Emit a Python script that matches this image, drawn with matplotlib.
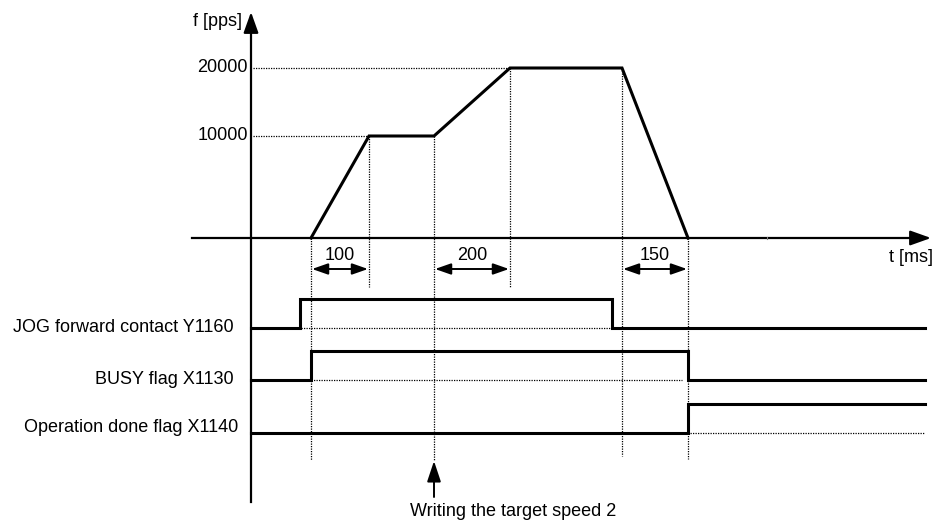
import matplotlib.pyplot as plt
import numpy as np

plt.rcParams['font.family'] = ['Liberation Sans', 'DejaVu Sans']

# speed profile (schematic time position, frequency in pps)
profile_t = [311, 369, 434, 510, 622, 688]
profile_f = [0, 10000, 10000, 20000, 20000, 0]
f_ticks = [10000, 20000]
f_tick_labels = ["10000", "20000"]
# the drawing is not to scale: f level -> height above time axis
f_levels = [0, 10000, 20000]
f_heights = [0, 102, 170]

# time spans marked under the axis
spans = [(311, 369, "100"), (434, 510, "200"), (622, 688, "150")]

# signals: name, rising/falling edges, start level
signal_names = ["JOG forward contact Y1160", "BUSY flag X1130", "Operation done flag X1140"]
signal_edges = [[300, 612], [311, 688], [688]]
signal_start_level = [0, 0, 0]
signal_low_y = [328, 380, 433]
signal_label_y = [327, 380, 428]
signal_label_x = [234, 234, 238]
signal_high = 29
sig_x0, sig_x1 = 251, 925

write_t = 434

axis_x = 251
axis_y = 238

fig = plt.figure(figsize=(9.35, 5.21), dpi=100)
ax = fig.add_axes([0, 0, 1, 1])
ax.set_xlim(0, 935)
ax.set_ylim(521, 0)
ax.axis('off')

def f_to_y(f):
    return axis_y - np.interp(f, f_levels, f_heights)

dot = dict(color='black', lw=0.9, ls=(0, (1, 1)))
big_head = dict(arrowstyle='-|>,head_length=0.7,head_width=0.25', color='black', lw=1.6,
                mutation_scale=18, shrinkA=0, shrinkB=0)
fs = 13

# axes
ax.plot([axis_x, axis_x], [502, 25], color='black', lw=1.6)
ax.annotate('', xy=(axis_x, 12), xytext=(axis_x, 32), arrowprops=big_head)
ax.plot([192, 912], [axis_y, axis_y], color='black', lw=1.6)
ax.annotate('', xy=(931, axis_y), xytext=(910, axis_y), arrowprops=big_head)
ax.plot([767, 767], [axis_y - 1, axis_y + 1], color='gray', lw=0.8)
ax.text(242, 22, "f [pps]", ha='right', va='center', fontsize=fs)
ax.text(933, 257, "t [ms]", ha='right', va='center', fontsize=fs)

# frequency levels
for f, lab in zip(f_ticks, f_tick_labels):
    y = f_to_y(f)
    ax.text(248, y, lab, ha='right', va='center', fontsize=fs)
    idx = profile_f.index(f)
    ax.plot([axis_x + 2, profile_t[idx]], [y, y], **dot)

# profile
ax.plot(profile_t, [f_to_y(f) for f in profile_f], color='black', lw=2.2,
        solid_joinstyle='miter')

# vertical guide lines
guides = [(311, 238, 460), (369, 136, 287), (434, 136, 460),
          (510, 68, 287), (622, 68, 456), (688, 238, 459)]
for x, ya, yb in guides:
    ax.plot([x, x], [ya, yb], **dot)

# span arrows
for xa, xb, lab in spans:
    ax.annotate('', xy=(xa + 1, 269), xytext=(xb - 1, 269),
                arrowprops=dict(arrowstyle='<|-|>,head_length=0.8,head_width=0.28', color='black',
                                lw=1.4, mutation_scale=12, shrinkA=0, shrinkB=0))
    ax.text((xa + xb) / 2, 255, lab, ha='center', va='center', fontsize=fs)

# signals
for name, edges, lev, ylow, ly, lx in zip(signal_names, signal_edges, signal_start_level,
                                          signal_low_y, signal_label_y, signal_label_x):
    xs = [sig_x0]
    ys = [ylow - lev * signal_high]
    for e in edges:
        xs += [e, e]
        ys += [ys[-1], (ylow - signal_high) if ys[-1] == ylow else ylow]
    xs.append(sig_x1)
    ys.append(ys[-1])
    ax.plot(xs, ys, color='black', lw=2.2, solid_joinstyle='miter')
    ax.text(lx, ly, name, ha='right', va='center', fontsize=fs)

# dotted low reference while signal is high
ax.plot([301, 612], [328, 328], **dot)
ax.plot([311, 682], [380, 380], **dot)
ax.plot([690, 925], [433, 433], **dot)

# write marker
ax.annotate('', xy=(write_t, 461), xytext=(write_t, 497),
            arrowprops=dict(arrowstyle='-|>,head_length=0.9,head_width=0.3', color='black',
                            lw=1.4, mutation_scale=14, shrinkA=0, shrinkB=0))
ax.text(410, 512, "Writing the target speed 2", ha='left', va='center', fontsize=fs)

fig.savefig("out.png", dpi=100)
